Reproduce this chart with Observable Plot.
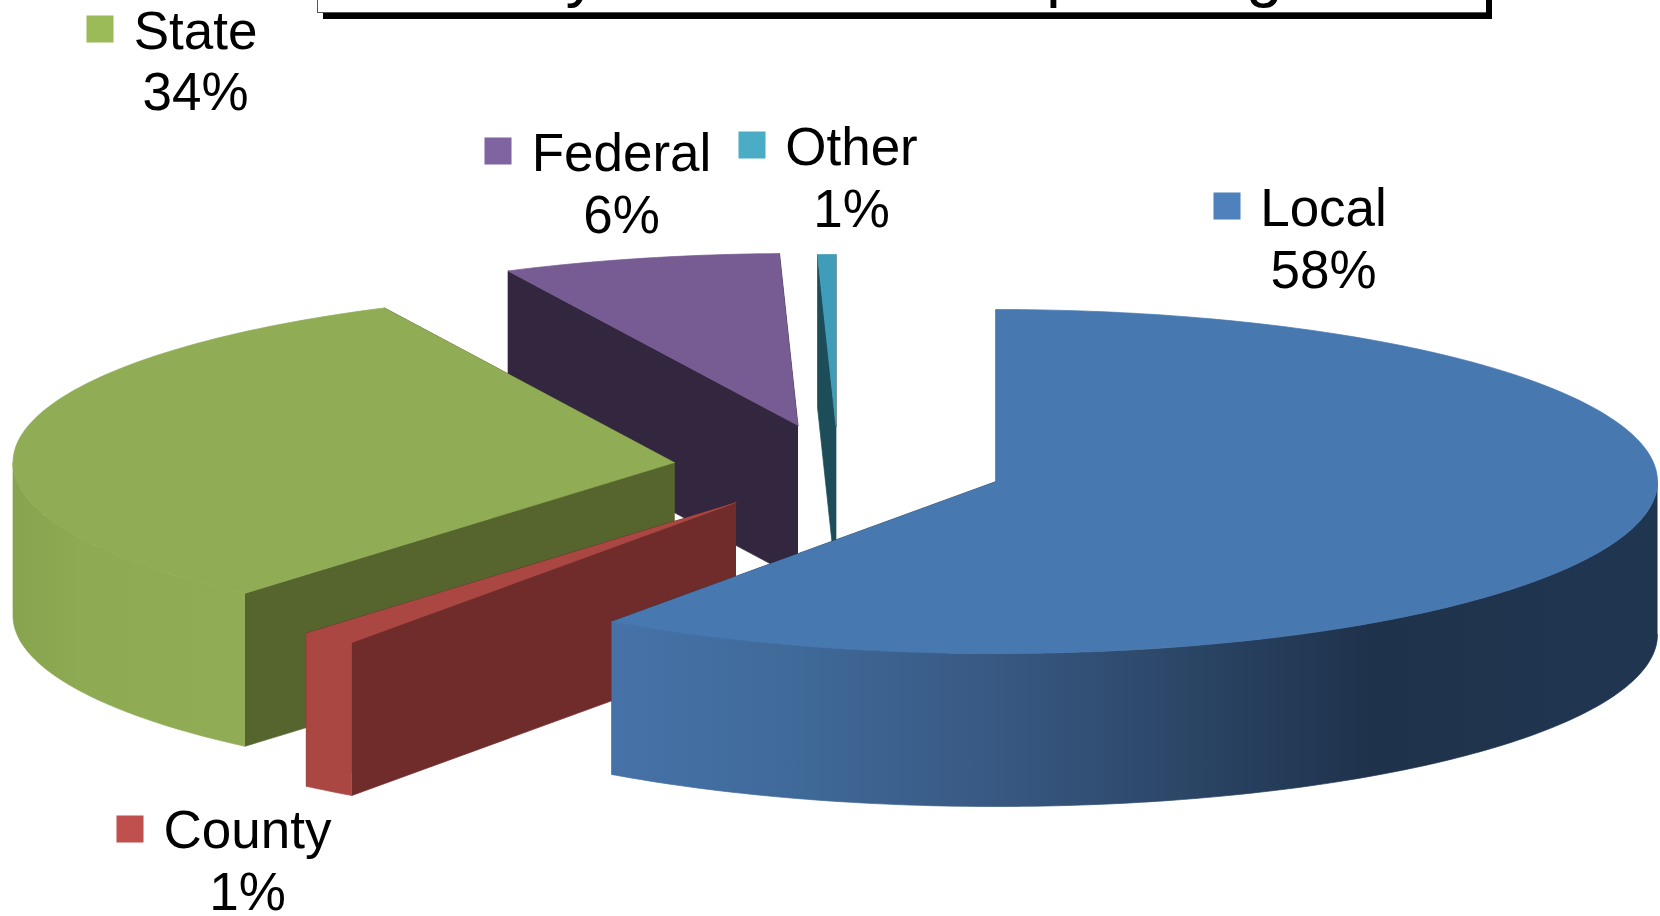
<!DOCTYPE html>
<html>
<head>
<meta charset="utf-8">
<script src="https://cdn.jsdelivr.net/npm/d3@7"></script>
<script src="https://cdn.jsdelivr.net/npm/@observablehq/plot@0.6"></script>
<style>
html,body{margin:0;padding:0;background:#fff;overflow:hidden;width:1660px;height:916px}
#chart{position:absolute;left:0;top:0}
#titleBox{position:absolute;left:317px;top:-80px;width:1168px;height:92px;background:#fff;border-left:1px solid #555;border-bottom:1px solid #555;box-shadow:6px 6px 0 #000;overflow:hidden;z-index:2;
 font:66.5px "Liberation Sans",Arial,sans-serif;color:#000;text-align:center;line-height:102px;white-space:nowrap}
</style>
</head>
<body>
<div id="chart"></div>
<div id="titleBox">By Government Spending</div>
<script>
// Series, in clockwise drawing order from twelve o'clock
const names = ["Local", "County", "State", "Federal", "Other"];
const percentLabels = ["58%", "1%", "34%", "6%", "1%"];
// Swept angle of each slice as drawn (degrees)
const sweepDegrees = [215.5, 5.0, 113.5, 24.4, 1.6];
const swatchColors = ["#4F81BD", "#C0504D", "#9BBB59", "#8064A2", "#4BACC6"];
const topColors = ["#4878B0", "#AB4743", "#90AC54", "#775B93", "#3F9DB9"];
const wallColors = ["url(#localWall)", "#AB4743", "url(#stateWall)", "#33263F", "#1D4D58"];
const faceColors = ["#2A4565", "#6F2C2B", "#56652E", "#33263F", "#1D4D58"];

// Layout of the exploded pie and its labels
const apexX = [995.5, 735.5, 674, 797.5, 835.5];
const apexY = [481, 502, 462, 425, 426];
const radiusX = 661.5, radiusY = 172, depth = 153;
const labelX = [1323, 247, 195, 621, 851];
const labelY = [225, 847, 48, 170, 164];
const percentY = [287, 909, 109, 232, 226];
const swatchX = [1226.5, 129.5, 99.5, 497.5, 751.5];
const swatchY = [205.5, 828.5, 28.5, 150.5, 144.5];
// Draw order, back to front
const drawOrder = [4, 3, 2, 1, 0];

const toRad = d => d * Math.PI / 180;
const rimPoint = (i, deg, drop = 0) => ({
  x: apexX[i] + radiusX * Math.sin(toRad(deg)),
  y: apexY[i] - radiusY * Math.cos(toRad(deg)) + drop
});
const starts = Array.from(d3.cumsum([0, ...sweepDegrees]));

function slicePolygons(i) {
  const a0 = starts[i], a1 = starts[i + 1];
  const apex = {x: apexX[i], y: apexY[i]};
  const low = {x: apexX[i], y: apexY[i] + depth};
  const n = Math.max(2, Math.ceil(a1 - a0));
  const arc = d3.range(n + 1).map(k => a0 + (a1 - a0) * k / n);
  const polys = [];
  polys.push({fill: faceColors[i], pts: [apex, rimPoint(i, a1), rimPoint(i, a1, depth), low]});
  polys.push({fill: faceColors[i], pts: [apex, rimPoint(i, a0), rimPoint(i, a0, depth), low]});
  const lo = Math.max(a0, 90), hi = Math.min(a1, 270);
  if (hi > lo) {
    const m = Math.ceil(hi - lo);
    const wall = d3.range(m + 1).map(k => lo + (hi - lo) * k / m);
    polys.push({fill: wallColors[i], pts: [...wall.map(d => rimPoint(i, d)), ...wall.slice().reverse().map(d => rimPoint(i, d, depth))]});
  }
  polys.push({fill: topColors[i], pts: [apex, ...arc.map(d => rimPoint(i, d))]});
  return polys;
}

const polygons = drawOrder.flatMap(slicePolygons);
const rows = d3.range(names.length);

const gradients = () => {
  const defs = d3.create("svg:defs");
  const add = (id, stops) => {
    const g = defs.append("linearGradient").attr("id", id)
      .attr("gradientUnits", "userSpaceOnUse")
      .attr("x1", stops[0][0]).attr("x2", stops[stops.length - 1][0]).attr("y1", 0).attr("y2", 0);
    const span = stops[stops.length - 1][0] - stops[0][0];
    stops.forEach(([x, c]) => g.append("stop").attr("offset", (x - stops[0][0]) / span).attr("stop-color", c));
  };
  add("localWall", [[610, "#4672A8"], [800, "#3F6998"], [1000, "#385882"], [1200, "#2A4464"], [1370, "#1F324C"], [1659, "#203650"]]);
  add("stateWall", [[11, "#87A34E"], [80, "#8EAB53"], [244, "#90AC54"]]);
  return defs.node();
};

const chart = Plot.plot({
  width: 1660,
  height: 916,
  margin: 0,
  style: {background: "transparent"},
  x: {domain: [0, 1660], range: [0, 1660], axis: null},
  y: {domain: [0, 916], range: [0, 916], axis: null},
  color: {type: "identity"},
  marks: [
    gradients,
    ...polygons.map(p => Plot.line(p.pts, {x: "x", y: "y", fill: p.fill, stroke: p.fill, strokeWidth: 0.7, curve: "linear"})),
    Plot.dot(rows, {x: i => swatchX[i], y: i => swatchY[i], symbol: "square", r: 15.25, fill: i => swatchColors[i], stroke: "none"}),
    Plot.text(rows, {x: i => labelX[i], y: i => labelY[i], text: i => names[i], fontSize: 53, fontFamily: "Liberation Sans", fill: "#000", textAnchor: "middle", lineAnchor: "bottom"}),
    Plot.text(rows, {x: i => labelX[i], y: i => percentY[i], text: i => percentLabels[i], fontSize: 53, fontFamily: "Liberation Sans", fill: "#000", textAnchor: "middle", lineAnchor: "bottom"})
  ]
});
document.getElementById("chart").append(chart);
</script>
</body>
</html>
